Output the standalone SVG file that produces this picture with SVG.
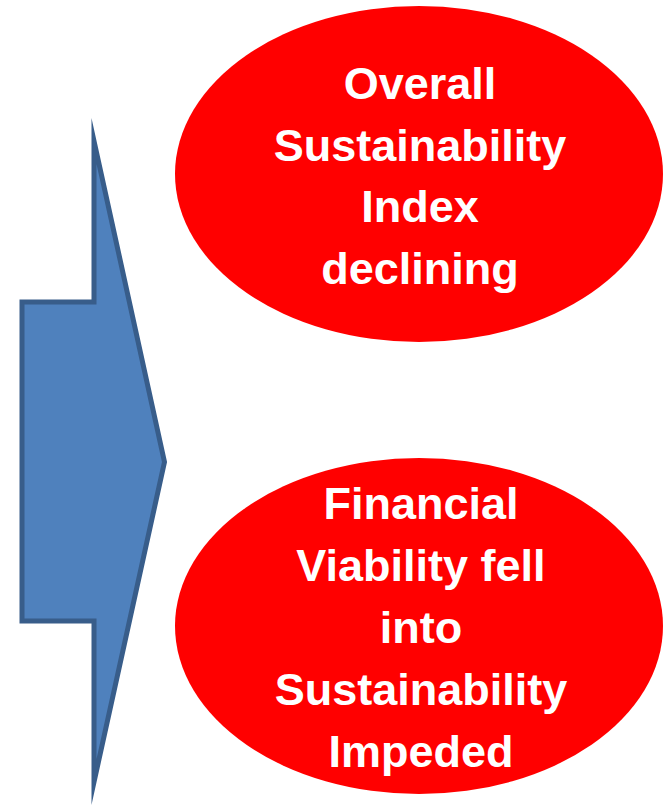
<svg xmlns="http://www.w3.org/2000/svg" width="663" height="805" viewBox="0 0 663 805">
<style>
.bubble{fill:#FF0000;stroke:none}
.lbl{font-family:"Liberation Sans",Arial,sans-serif;font-weight:bold;font-size:45px;fill:#FFFFFF;text-anchor:middle}
.arrow{fill:#4F81BD;stroke:#385D8A;stroke-width:5;stroke-linejoin:miter;stroke-miterlimit:12}
</style>
<rect width="663" height="805" fill="#FFFFFF"/>
<g id="connectors">
<polygon class="arrow" points="22,302 94,302 94,141 164.5,462 94,782 94,621 22,621"/>
</g>
<g id="node-top">
<ellipse class="bubble" cx="419" cy="174" rx="244" ry="168"/>
<text class="lbl" x="420" y="99">Overall</text>
<text class="lbl" x="420" y="161">Sustainability</text>
<text class="lbl" x="420" y="222">Index</text>
<text class="lbl" x="420" y="284">declining</text>
</g>
<g id="node-bottom">
<ellipse class="bubble" cx="419" cy="626" rx="244" ry="168"/>
<text class="lbl" x="421" y="519">Financial</text>
<text class="lbl" x="421" y="581">Viability fell</text>
<text class="lbl" x="421" y="643">into</text>
<text class="lbl" x="421" y="705">Sustainability</text>
<text class="lbl" x="421" y="767">Impeded</text>
</g>
</svg>
